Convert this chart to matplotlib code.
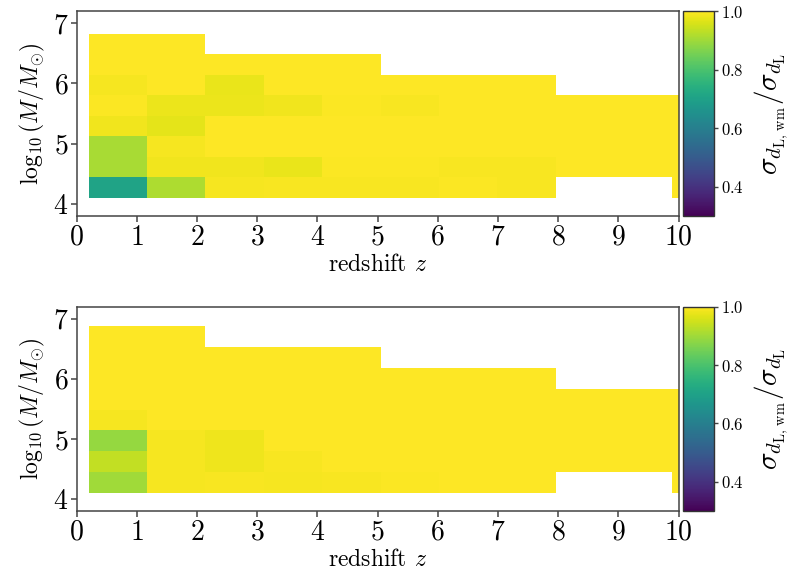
import numpy as np
import matplotlib
matplotlib.use("Agg")
import matplotlib.pyplot as plt

plt.rcParams["font.family"] = "cmr10"
plt.rcParams["mathtext.fontset"] = "cm"
plt.rcParams["axes.formatter.use_mathtext"] = True

nan = np.nan

# redshift bin edges (last bin runs past the plotted range)
z_edges = [0.2, 1.17, 2.14, 3.11, 4.08, 5.05, 6.02, 6.99, 7.96, 8.93, 9.9, 10.87]
# log10 mass bin edges for each panel
logm_edges_top = [4.1, 4.44, 4.78, 5.12, 5.46, 5.8, 6.14, 6.48, 6.82]
logm_edges_bot = [4.1, 4.447, 4.794, 5.141, 5.488, 5.835, 6.182, 6.529, 6.876]

# ratio sigma_dL,wm / sigma_dL ; rows = mass bins (low -> high), cols = redshift bins
ratio_top = [
    [0.705, 0.915, 0.99, 0.993, 0.993, 0.993, 0.997, 0.993, nan, nan, 1.0],
    [0.908, 0.985, 0.985, 0.978, 0.997, 0.997, 0.993, 0.993, 1.0, 1.0, 1.0],
    [0.908, 0.99, 1.0, 1.0, 1.0, 1.0, 1.0, 1.0, 1.0, 1.0, 1.0],
    [0.985, 0.972, 1.0, 1.0, 1.0, 1.0, 1.0, 1.0, 1.0, 1.0, 1.0],
    [0.997, 0.98, 0.98, 0.985, 0.997, 0.993, 1.0, 1.0, 1.0, 1.0, 1.0],
    [0.99, 1.0, 0.976, 1.0, 1.0, 1.0, 1.0, 1.0, nan, nan, nan],
    [1.0, 1.0, 1.0, 1.0, 1.0, nan, nan, nan, nan, nan, nan],
    [1.0, 1.0, nan, nan, nan, nan, nan, nan, nan, nan, nan],
]
ratio_bot = [
    [0.9, 0.99, 0.993, 0.99, 0.993, 0.997, 1.0, 1.0, nan, nan, 1.0],
    [0.935, 0.99, 0.982, 0.993, 1.0, 1.0, 1.0, 1.0, 1.0, 1.0, 1.0],
    [0.888, 0.99, 0.982, 1.0, 1.0, 1.0, 1.0, 1.0, 1.0, 1.0, 1.0],
    [0.99, 1.0, 1.0, 1.0, 1.0, 1.0, 1.0, 1.0, 1.0, 1.0, 1.0],
    [1.0, 1.0, 1.0, 1.0, 1.0, 1.0, 1.0, 1.0, 1.0, 1.0, 1.0],
    [1.0, 1.0, 1.0, 1.0, 1.0, 1.0, 1.0, 1.0, nan, nan, nan],
    [1.0, 1.0, 1.0, 1.0, 1.0, nan, nan, nan, nan, nan, nan],
    [1.0, 1.0, nan, nan, nan, nan, nan, nan, nan, nan, nan],
]

x_ticks = list(range(0, 11))
y_ticks = [4, 5, 6, 7]
cbar_ticks = [0.4, 0.6, 0.8, 1.0]
vmin, vmax = 0.3, 1.0

W, H = 792, 573
fig = plt.figure(figsize=(W / 100, H / 100), dpi=100)

panels = [
    (ratio_top, logm_edges_top, 11, 216),
    (ratio_bot, logm_edges_bot, 306.7, 511),
]

spine_col = "#444444"
for data, m_edges, top_px, bot_px in panels:
    left, right = 76.7 / W, 678.5 / W
    bottom = 1 - bot_px / H
    height = (bot_px - top_px) / H
    ax = fig.add_axes([left, bottom, right - left, height])
    vals = np.ma.masked_invalid(np.array(data, dtype=float))
    mesh = ax.pcolormesh(z_edges, m_edges, vals, cmap="viridis",
                         vmin=vmin, vmax=vmax, shading="flat")
    ax.set_xlim(0, 10)
    ax.set_ylim(3.8, 7.2)
    ax.set_xticks(x_ticks)
    ax.set_yticks(y_ticks)
    ax.tick_params(labelsize=20, length=4, width=1.1, color=spine_col, pad=2)
    for s in ax.spines.values():
        s.set_color(spine_col)
        s.set_linewidth(1.1)
    ax.set_xlabel(r"redshift $z$", fontsize=17, labelpad=2)
    ax.set_ylabel(r"$\log_{10}(M/M_{\odot})$", fontsize=17, labelpad=4)

    cax = fig.add_axes([683.3 / W, bottom, 31 / W, height])
    cb = fig.colorbar(mesh, cax=cax)
    cb.set_ticks(cbar_ticks)
    cb.ax.tick_params(labelsize=12, length=3, width=1, color=spine_col, pad=2)
    cb.outline.set_edgecolor("#333333")
    cb.outline.set_linewidth(1.0)
    cb.set_label(r"$\sigma_{d_{\rm L,\,wm}}/\sigma_{d_{\rm L}}$", fontsize=21, labelpad=6)

fig.savefig("out.png", dpi=100)
